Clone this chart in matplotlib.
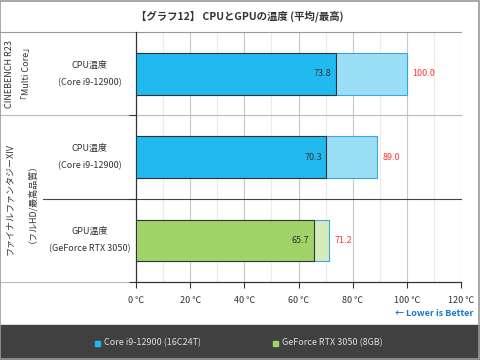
import matplotlib
matplotlib.use("Agg")
import matplotlib.pyplot as plt
from matplotlib.patches import Rectangle
from matplotlib.transforms import blended_transform_factory

plt.rcParams['font.family'] = ['Noto Sans CJK JP', 'DejaVu Sans']

title = "【グラフ12】 CPUとGPUの温度 (平均/最高)"
row_labels = ["CPU温度\n(Core i9-12900)", "CPU温度\n(Core i9-12900)", "GPU温度\n(GeForce RTX 3050)"]
group_labels = [("CINEBENCH R23", "「Multi Core」"), ("ファイナルファンタジーXIV", "（フルHD/最高品質）")]
group_rows = [[0], [1, 2]]
avg_vals = [73.8, 70.3, 65.7]
max_vals = [100.0, 89.0, 71.2]
row_series = [0, 0, 1]
series_names = ["Core i9-12900 (16C24T)", "GeForce RTX 3050 (8GB)"]
avg_colors = ["#21BAF0", "#A0D468"]
max_colors = ["#9ADFF6", "#D4EBBC"]
xticks = [0, 20, 40, 60, 80, 100, 120]
xtick_labels = [f"{t} ℃" for t in xticks]

W, H = 480, 360
fig = plt.figure(figsize=(4.8, 3.6), dpi=100)
fig.patch.set_facecolor("white")

def fx(px): return px / W
def fy(py): return 1 - py / H

x0, x1, y0, y1 = 136, 461, 32, 282
ax = fig.add_axes([fx(x0), fy(y1), fx(x1) - fx(x0), fy(y0) - fy(y1)])
ax.set_xlim(0, 120)
ax.set_ylim(2.5, -0.5)

# gridlines
for v in range(10, 121, 10):
    c = "#C8C8C8" if v % 20 == 0 else "#EBEBEB"
    ax.axvline(v, color=c, lw=0.8, zorder=0)

bh = 0.5
for i in range(len(avg_vals)):
    s = row_series[i]
    ax.barh(i, max_vals[i], height=bh, color=max_colors[s], edgecolor="#3AA6E0", lw=0.8, zorder=2)
    ax.barh(i, avg_vals[i], height=bh, color=avg_colors[s], edgecolor="#333333", lw=0.8, zorder=3)
    ax.text(avg_vals[i] - 1.6, i, f"{avg_vals[i]:.1f}", ha="right", va="center",
            fontsize=6.5, color="#333333", zorder=4)
    ax.text(max_vals[i] + 2.0, i, f"{max_vals[i]:.1f}", ha="left", va="center",
            fontsize=6.5, color="#FF3333", zorder=4)

ax.set_xticks(xticks)
ax.set_xticklabels(xtick_labels, fontsize=6.5, color="#333333")
ax.tick_params(axis="x", length=4, color="#333333", pad=6)
ax.set_yticks([0.5, 1.5, 2.5])
ax.set_yticklabels([])
ax.tick_params(axis="y", length=5, color="#333333")
for sp in ["top", "right"]:
    ax.spines[sp].set_visible(False)
ax.spines["left"].set_color("#333333")
ax.spines["bottom"].set_color("#333333")
ax.spines["left"].set_linewidth(0.9)
ax.spines["bottom"].set_linewidth(0.9)

tr = blended_transform_factory(fig.transFigure, ax.transData)
# row separators
ax.plot([0, fx(x1)], [0.5, 0.5], transform=tr, color="#BBBBBB", lw=0.8, clip_on=False, zorder=1)
ax.plot([fx(43), fx(x1)], [1.5, 1.5], transform=tr, color="#444444", lw=0.8, clip_on=False, zorder=1)
ax.plot([0, fx(x0)], [2.5, 2.5], transform=tr, color="#BBBBBB", lw=0.8, clip_on=False, zorder=1)
ax.plot([0, fx(x1)], [-0.5, -0.5], transform=tr, color="#999999", lw=0.8, clip_on=False, zorder=1)

# row labels
for i, lab in enumerate(row_labels):
    l1, l2 = lab.split("\n")
    ax.text(fx(90), i - 0.105, l1, transform=tr, ha="center", va="center", fontsize=6.5, color="#333333")
    ax.text(fx(90), i + 0.105, l2, transform=tr, ha="center", va="center", fontsize=6.5, color="#333333")

# group labels
for (g1, g2), rows in zip(group_labels, group_rows):
    yc = sum(rows) / len(rows)
    ax.text(fx(10), yc, g1, transform=tr, rotation=90, ha="center", va="center", fontsize=6.5, color="#333333")
    ax.text(fx(27), yc, g2, transform=tr, rotation=90, ha="center", va="center", fontsize=6.5, color="#333333")

# title
fig.text(0.5, fy(16), title, ha="center", va="center", fontsize=7.5, fontweight="bold", color="#333333")

# lower is better
fig.text(fx(473), fy(314), "← Lower is Better", ha="right", va="center", fontsize=6.5,
         color="#1E78C8", fontweight="bold")

# legend band
fig.patches.append(Rectangle((0, 0), 1, fy(325), transform=fig.transFigure, color="#404040", zorder=0))
leg_x = [98, 276]
for k, name in enumerate(series_names):
    fig.patches.append(Rectangle((fx(leg_x[k] - 3), fy(346)), fx(5), fy(341) - fy(346) + 0.0,
                                 transform=fig.transFigure, color=avg_colors[k], zorder=1))
    fig.text(fx(leg_x[k] + 6), fy(343), name, ha="left", va="center", fontsize=6.5, color="#DDDDDD")

# outer border
fig.patches.append(Rectangle((0.001, 0.002), 0.997, 0.996, transform=fig.transFigure,
                             fill=False, edgecolor="#999999", lw=1.2, zorder=5))

fig.savefig("out.png", dpi=100)
